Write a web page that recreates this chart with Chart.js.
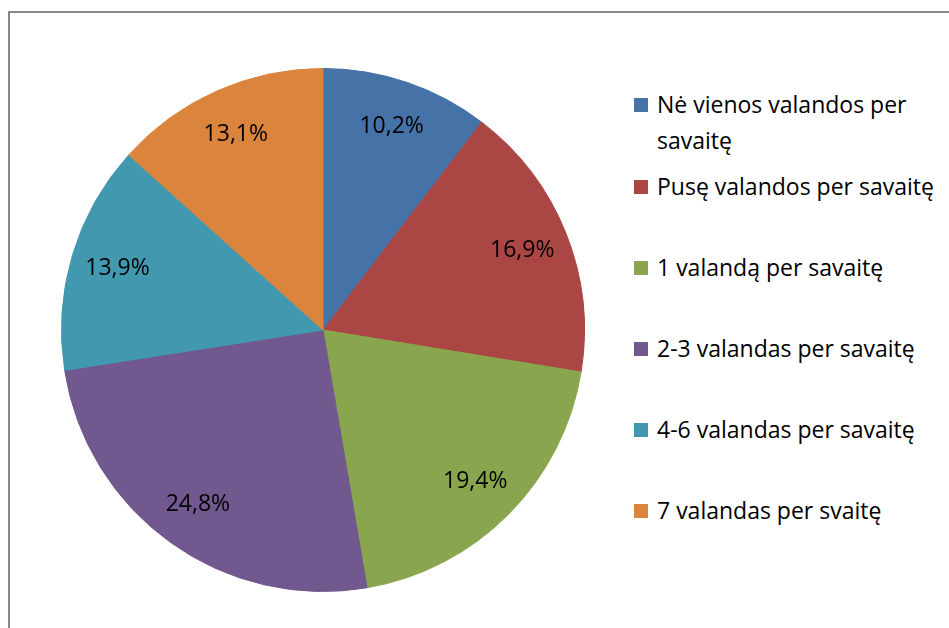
<!DOCTYPE html>
<html>
<head>
<meta charset="utf-8">
<script src="https://cdn.jsdelivr.net/npm/chart.js@4"></script>
<style>
    body { margin: 0; width: 949px; height: 628px; overflow: hidden; background: #fff; font-family: 'Open Sans', Lato, sans-serif; }
    #frame { position: absolute; left: 8px; top: 11px; width: 1200px; height: 1000px; border-top: 2px solid #888; border-left: 2px solid #888; }
    #pie-box { position: absolute; left: 61px; top: 68px; width: 524px; height: 524px; }
    #legend { position: absolute; left: 634px; top: 86px; width: 315px; margin: 0; padding: 0; list-style: none; }
    #legend li { display: flex; align-items: flex-start; margin-bottom: 45px; font-size: 23px; line-height: 36px; color: #000; }
    #legend li:first-child { margin-bottom: 10px; }
    #legend .box { flex: none; width: 14px; height: 14px; margin-top: 12px; margin-right: 9px; }
    #legend .txt { width: 292px; white-space: normal; }
</style>
</head>
<body>
<div id="frame"></div>
<div id="pie-box"><canvas id="pie"></canvas></div>
<ul id="legend"></ul>
<script>
const categories = [
    'Nė vienos valandos per savaitę',
    'Pusę valandos per savaitę',
    '1 valandą per savaitę',
    '2-3 valandas per savaitę',
    '4-6 valandas per savaitę',
    '7 valandas per svaitę'
];
const shares = [10.2, 16.9, 19.4, 24.8, 13.9, 13.1];
const sliceColors = ['#4572A7', '#AA4643', '#89A54E', '#71588F', '#4198AF', '#DB843D'];

// percent labels inside the slices
const sliceLabels = {
    id: 'sliceLabels',
    afterDatasetsDraw(chart) {
        const ctx = chart.ctx;
        const meta = chart.getDatasetMeta(0);
        ctx.save();
        ctx.font = '23px "Open Sans", Lato, sans-serif';
        ctx.fillStyle = '#000';
        ctx.textAlign = 'center';
        ctx.textBaseline = 'middle';
        meta.data.forEach((arc, i) => {
            const mid = (arc.startAngle + arc.endAngle) / 2;
            const r = arc.outerRadius * 0.82;
            const x = arc.x + Math.cos(mid) * r;
            const y = arc.y + Math.sin(mid) * r;
            ctx.fillText(shares[i].toFixed(1).replace('.', ',') + '%', x, y);
        });
        ctx.restore();
    }
};

new Chart(document.getElementById('pie'), {
    type: 'pie',
    data: {
        labels: categories,
        datasets: [{
            data: shares,
            backgroundColor: sliceColors,
            borderColor: sliceColors,
            borderWidth: 1
        }]
    },
    options: {
        responsive: true,
        maintainAspectRatio: false,
        animation: false,
        layout: { padding: 0 },
        plugins: {
            legend: { display: false },
            tooltip: { enabled: false }
        }
    },
    plugins: [sliceLabels]
});

const legendList = document.getElementById('legend');
categories.forEach((name, i) => {
    const li = document.createElement('li');
    li.innerHTML = `<span class="box" style="background:${sliceColors[i]}"></span><span class="txt">${name}</span>`;
    legendList.appendChild(li);
});
</script>
</body>
</html>
